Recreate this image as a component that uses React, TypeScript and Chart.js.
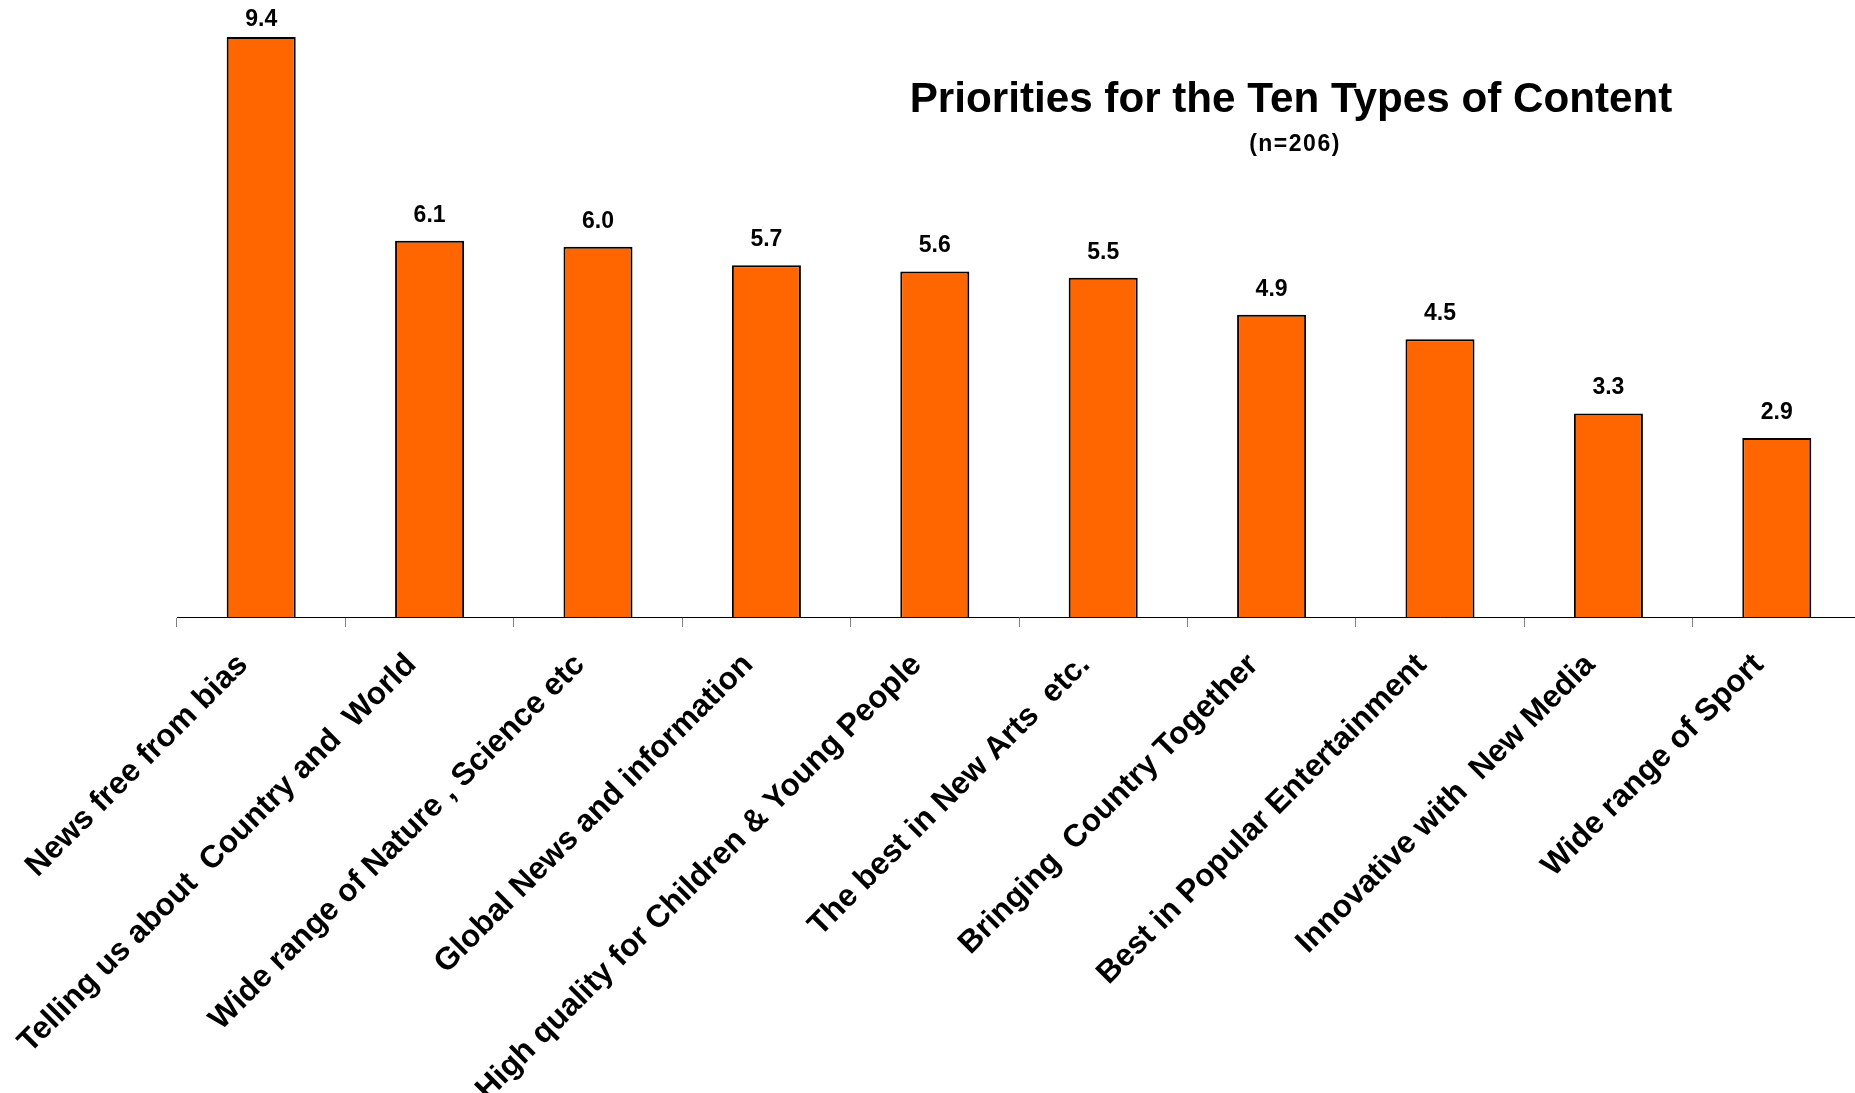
import React, { useEffect, useRef } from "react";
import { Chart, registerables } from "chart.js";

Chart.register(...registerables);

const categories = [
  "News free from bias",
  "Telling us about  Country and  World",
  "Wide range of Nature , Science etc",
  "Global News and information",
  "High quality for Children & Young People",
  "The best in New Arts  etc.",
  "Bringing  Country Together",
  "Best in Popular Entertainment",
  "Innovative with  New Media",
  "Wide range of Sport",
];

const priorityValues = [9.4, 6.1, 6.0, 5.7, 5.6, 5.5, 4.9, 4.5, 3.3, 2.9];

const titleText = "Priorities for the Ten Types of Content";
const subtitleText = "(n=206)";

const FONT = "'Liberation Sans', Arial, Helvetica, sans-serif";

const valueLabelPlugin = {
  id: "valueLabels",
  afterDatasetsDraw(chart: any) {
    const ctx = chart.ctx;
    const meta = chart.getDatasetMeta(0);
    ctx.save();
    ctx.font = `bold 23px ${FONT}`;
    ctx.fillStyle = "#000";
    ctx.textAlign = "center";
    ctx.textBaseline = "alphabetic";
    meta.data.forEach((el: any, i: number) => {
      const v = chart.data.datasets[0].data[i] as number;
      const y = Math.max(el.y - 19, 26);
      ctx.fillText(v.toFixed(1), el.x, y);
    });
    ctx.restore();
  },
};

// Rotated category labels, anchored at each tick of the x scale
const rotatedLabelPlugin = {
  id: "rotatedLabels",
  afterDraw(chart: any) {
    const ctx = chart.ctx;
    const xScale = chart.scales.x;
    const labels = chart.data.labels as string[];
    ctx.save();
    ctx.font = `bold 31.5px ${FONT}`;
    ctx.fillStyle = "#000";
    ctx.textAlign = "right";
    ctx.textBaseline = "alphabetic";
    labels.forEach((lab, i) => {
      const x = xScale.getPixelForTick(i) - 12;
      const y = xScale.top + 49;
      ctx.save();
      ctx.translate(x, y);
      ctx.rotate(-Math.PI / 4);
      ctx.fillText(lab, 0, 0);
      ctx.restore();
    });
    ctx.restore();
  },
};

const titlePlugin = {
  id: "chartTitleInside",
  afterDraw(chart: any) {
    const ctx = chart.ctx;
    ctx.save();
    ctx.fillStyle = "#000";
    ctx.textAlign = "center";
    ctx.textBaseline = "alphabetic";
    ctx.font = `bold 42.2px ${FONT}`;
    ctx.fillText(titleText, 1291, 112);
    ctx.font = `bold 23px ${FONT}`;
    try {
      (ctx as any).letterSpacing = "1.5px";
    } catch (e) {}
    ctx.fillText(subtitleText, 1295, 151);
    ctx.restore();
  },
};

export default function App() {
  const canvasRef = useRef<HTMLCanvasElement | null>(null);

  useEffect(() => {
    if (!canvasRef.current) return;
    const chart = new Chart(canvasRef.current, {
      type: "bar",
      data: {
        labels: categories,
        datasets: [
          {
            data: priorityValues,
            backgroundColor: "#FF6600",
            borderColor: "#000000",
            borderWidth: 2,
            categoryPercentage: 1,
            barPercentage: 0.41,
          },
        ],
      },
      options: {
        responsive: false,
        animation: false,
        devicePixelRatio: 1,
        layout: { padding: { left: 177, right: 0, top: 0, bottom: 0 } },
        plugins: {
          legend: { display: false },
          title: { display: false },
          tooltip: { enabled: false },
        },
        scales: {
          y: {
            display: false,
            min: 0,
            max: 10,
          },
          x: {
            offset: true,
            grid: {
              display: true,
              drawOnChartArea: false,
              drawTicks: true,
              tickLength: 10,
              color: "#808080",
              offset: true,
            },
            border: { display: true, color: "#000000", width: 1 },
            ticks: {
              display: false,
              autoSkip: false,
            },
            afterFit: (scale: any) => {
              scale.height = 476;
            },
          },
        },
      },
      plugins: [valueLabelPlugin, rotatedLabelPlugin, titlePlugin],
    });
    return () => chart.destroy();
  }, []);

  return (
    <div
      style={{
        position: "fixed",
        left: 0,
        top: 0,
        width: 1855,
        height: 1093,
        overflow: "hidden",
        background: "#fff",
      }}
    >
      <canvas
        ref={canvasRef}
        width={1861}
        height={1093}
        style={{ display: "block", width: 1861, height: 1093 }}
      />
    </div>
  );
}
